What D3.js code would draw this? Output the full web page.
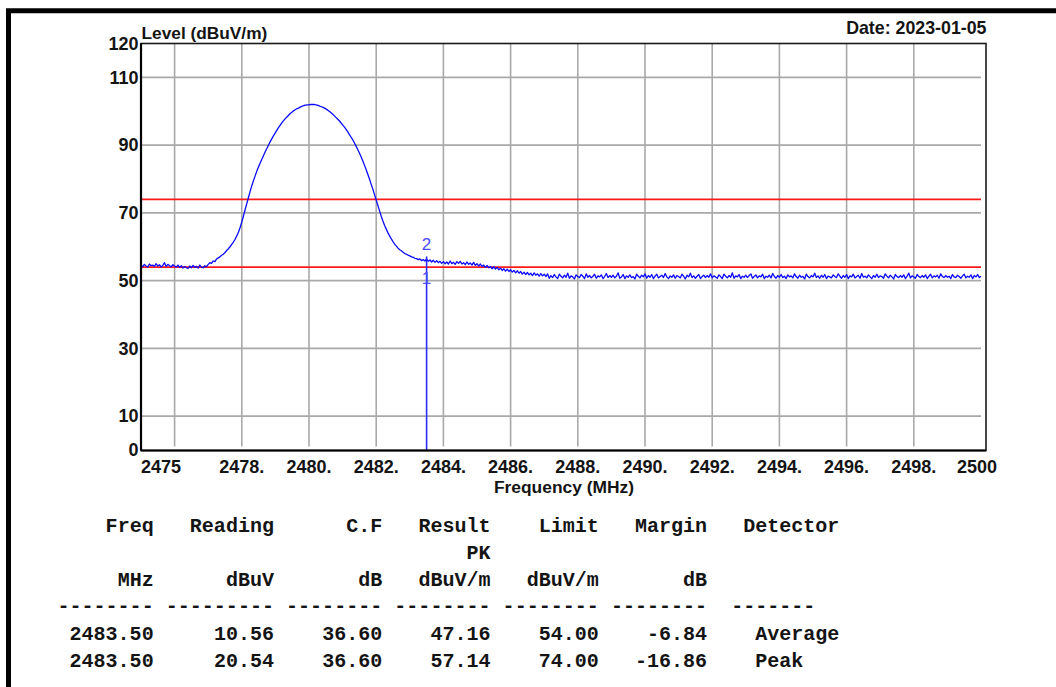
<!DOCTYPE html>
<html>
<head>
<meta charset="utf-8">
<script src="https://cdn.jsdelivr.net/npm/d3@7"></script>
<style>
  html, body { margin: 0; padding: 0; background: #fff; }
  svg { display: block; }
</style>
</head>
<body>
<svg id="chart" width="1056" height="687"></svg>
<script>
// ---- Sweep data (level in dBuV/m, one reading every 0.05 MHz from 2475 MHz) ----
const sweepStart = 2475;
const sweepStep = 0.05;
const levels = [
  // 2475.00 - 2476.95
  54.5, 54.1, 54.8, 54.3, 54.0, 54.9, 54.4, 54.6, 54.2, 55.0,
  54.3, 54.7, 54.0, 54.5, 55.3, 54.2, 54.8, 54.4, 54.1, 54.7,
  54.3, 54.0, 54.6, 53.9, 54.4, 53.7, 54.2, 53.8, 53.6, 54.3,
  53.8, 54.5, 53.9, 54.2, 53.7, 54.6, 54.0, 53.8, 54.4, 54.1,
  // 2477.00 - 2486.95 (carrier)
  54.8, 55.3, 55.1, 55.8, 55.6, 56.4, 56.7, 57.0, 57.5, 57.8,
  58.3, 58.9, 59.4, 60.0, 60.7, 61.4, 62.2, 63.2, 64.3, 65.7,
  67.3, 69.1, 71.0, 72.8, 74.6, 76.4, 78.1, 79.6, 81.0, 82.4,
  83.6, 84.8, 85.9, 87.0, 88.1, 89.1, 90.1, 91.1, 92.0, 92.9,
  93.7, 94.5, 95.3, 96.0, 96.7, 97.3, 97.9, 98.4, 98.9, 99.4,
  99.8, 100.2, 100.5, 100.8, 101.0, 101.3, 101.5, 101.7, 101.8, 101.9,
  101.9, 102.0, 102.0, 102.0, 101.9, 101.8, 101.6, 101.4, 101.2, 101.0,
  100.7, 100.4, 100.0, 99.6, 99.2, 98.7, 98.2, 97.7, 97.2, 96.6,
  96.0, 95.4, 94.7, 94.0, 93.2, 92.4, 91.6, 90.7, 89.7, 88.7,
  87.7, 86.6, 85.4, 84.1, 82.8, 81.4, 80.0, 78.5, 77.0, 75.4,
  73.8, 72.2, 70.6, 69.0, 67.6, 66.3, 65.2, 64.1, 63.2, 62.3,
  61.5, 60.8, 60.2, 59.6, 59.1, 58.8, 58.4, 58.0, 57.8, 57.5,
  57.3, 57.0, 56.9, 56.6, 56.5, 56.2, 56.4, 55.9, 56.2, 55.8,
  56.4, 55.7, 56.1, 55.5, 56.0, 55.4, 55.9, 55.3, 55.7, 55.1,
  55.6, 55.0, 55.5, 54.9, 55.8, 55.0, 55.4, 54.8, 55.6, 55.1,
  55.7, 54.9, 55.3, 54.7, 55.5, 54.8, 55.2, 54.6, 55.4, 54.5,
  55.0, 54.3, 54.9, 54.2, 54.6, 53.9, 54.5, 53.8, 54.2, 53.5,
  54.1, 53.4, 53.9, 53.2, 53.7, 53.0, 53.5, 52.8, 53.4, 52.7,
  53.2, 52.5, 53.0, 52.3, 52.9, 52.2, 52.7, 51.9, 52.5, 51.8,
  52.4, 51.7, 52.2, 51.5, 52.3, 51.6, 52.0, 51.3, 52.1, 51.4,
  // 2487.00 - 2500.00
  51.9,
  51.2, 52.0, 50.7, 51.5, 50.9, 51.8, 51.1, 50.6, 51.9, 51.3,
  50.8, 51.6, 51.0, 52.2, 50.7, 51.4, 51.1, 50.5, 51.7, 51.2,
  50.9, 51.8, 51.3, 50.6, 52.0, 51.0, 51.5, 50.8, 51.3, 51.9,
  50.7, 51.4, 51.1, 51.7, 50.6, 51.2, 52.1, 50.9, 51.5, 51.0,
  51.6, 50.8, 51.3, 52.3, 50.7, 51.1, 51.8, 50.6, 51.4, 51.0,
  51.7, 50.9, 51.2, 50.5, 51.9, 51.3, 50.8, 51.6, 51.1, 52.0,
  50.7, 51.5, 51.0, 51.8, 50.6, 51.3, 51.9, 50.8, 51.2, 51.6,
  50.9, 52.1, 51.1, 50.6, 51.4, 51.0, 51.7, 50.7, 51.5, 51.2,
  50.8, 51.9, 51.3, 50.5, 51.6, 51.1, 52.2, 50.9, 51.4, 50.7,
  51.3, 51.8, 50.6, 51.2, 51.6, 50.9, 51.5, 51.0, 52.0, 50.8,
  51.4, 51.1, 50.7, 51.7, 51.2, 50.6, 51.9, 51.3, 50.8, 51.5,
  51.0, 52.3, 50.7, 51.4, 51.1, 51.8, 50.6, 51.3, 51.0, 51.6,
  50.9, 51.5, 52.0, 50.7, 51.2, 51.7, 50.8, 51.4, 51.1, 51.9,
  50.6, 51.3, 51.0, 51.6, 50.8, 52.1, 51.2, 50.7, 51.5, 51.0,
  51.8, 50.9, 51.3, 50.6, 51.7, 51.1, 51.4, 50.8, 52.0, 51.2,
  50.7, 51.6, 51.0, 51.3, 50.5, 51.9, 51.2, 50.8, 51.5, 51.1,
  52.2, 50.9, 51.4, 50.7, 51.6, 51.0, 51.8, 50.6, 51.3, 51.1,
  50.8, 51.7, 51.2, 50.9, 52.0, 51.3, 50.7, 51.5, 51.0, 51.8,
  50.6, 51.4, 51.1, 51.9, 50.8, 51.2, 51.6, 50.7, 52.1, 51.0,
  51.3, 50.8, 51.7, 51.1, 50.6, 51.5, 51.0, 51.9, 50.9, 51.4,
  51.2, 50.7, 52.0, 51.3, 50.8, 51.6, 51.1, 50.5, 51.8, 51.2,
  50.9, 51.5, 51.0, 51.7, 50.6, 51.3, 52.2, 50.8, 51.4, 51.1,
  50.7, 51.8, 51.2, 50.9, 51.5, 51.0, 51.7, 50.6, 51.3, 51.9,
  50.8, 51.4, 51.1, 51.6, 50.7, 52.0, 51.2, 50.9, 51.5, 51.0,
  51.3, 50.6, 51.8, 51.1, 50.9, 51.6, 51.2, 50.7, 51.4, 51.9,
  50.8, 51.3, 51.0, 51.7, 50.6, 51.5, 51.1, 51.8, 50.9, 51.3
];

// Limit lines (dBuV/m): average and peak
const limitLines = [54, 74];

// Marker readings at the band edge
const markers = [
  { id: "1", freq: 2483.5, level: 47.16 },
  { id: "2", freq: 2483.5, level: 57.14 }
];

// Axis ticks
const yTickValues = [0, 10, 30, 50, 70, 90, 110, 120];
const yGridValues = [10, 30, 50, 70, 90, 110];
const xGridValues = [2476, 2478, 2480, 2482, 2484, 2486, 2488, 2490, 2492, 2494, 2496, 2498];
const xTickValues = [2475, 2478, 2480, 2482, 2484, 2486, 2488, 2490, 2492, 2494, 2496, 2498, 2500];
const xTickTexts  = ["2475", "2478.", "2480.", "2482.", "2484.", "2486.", "2488.", "2490.", "2492.", "2494.", "2496.", "2498.", "2500"];

// Result table
const tableHeader    = ["Freq", "Reading", "C.F", "Result", "Limit", "Margin", "Detector"];
const tableSubHeader = ["", "", "", "PK", "", "", ""];
const tableUnits     = ["MHz", "dBuV", "dB", "dBuV/m", "dBuV/m", "dB", ""];
const tableRuleLens  = [8, 9, 8, 8, 8, 8, 7];
const tableRows = [
  ["2483.50", "10.56", "36.60", "47.16", "54.00", "-6.84", "Average"],
  ["2483.50", "20.54", "36.60", "57.14", "74.00", "-16.86", "Peak"]
];

// ---- Layout ----
const svg = d3.select("#chart");
const plot = { left: 141, right: 986, top: 43.5, bottom: 450.5 };
const x = d3.scaleLinear().domain([2475, 2500]).range([141, 981]);
const y = d3.scaleLinear().domain([0, 120]).range([450, 43.5]);

const sansBold = "'Liberation Sans', Arial, sans-serif";
const mono = "'Liberation Mono', 'DejaVu Sans Mono', monospace";
const ink = "#141414";

// Report border (top and left edges)
svg.append("path")
  .attr("d", "M8.5,687 L8.5,10.8 L1056,10.8")
  .attr("fill", "none").attr("stroke", "#000").attr("stroke-width", 5);

// Grid
const grid = svg.append("g");
grid.selectAll("line.vg").data(xGridValues).join("line")
  .attr("class", "vg")
  .attr("x1", d => x(d)).attr("x2", d => x(d))
  .attr("y1", plot.top).attr("y2", plot.bottom - 4)
  .attr("stroke", "#a9a9a9").attr("stroke-width", 1.6);
grid.selectAll("line.hg").data(yGridValues).join("line")
  .attr("class", "hg")
  .attr("x1", plot.left).attr("x2", x(2500))
  .attr("y1", d => y(d)).attr("y2", d => y(d))
  .attr("stroke", "#a9a9a9").attr("stroke-width", 1.6);

// Limit lines
svg.selectAll("line.limit").data(limitLines).join("line")
  .attr("class", "limit")
  .attr("x1", plot.left).attr("x2", x(2500))
  .attr("y1", d => y(d)).attr("y2", d => y(d))
  .attr("stroke", "#ff1a1a").attr("stroke-width", 1.6);

// Trace
const line = d3.line()
  .x((d, i) => x(sweepStart + i * sweepStep))
  .y(d => y(d));
svg.append("path")
  .datum(levels)
  .attr("d", line)
  .attr("fill", "none")
  .attr("stroke", "#0a0aff")
  .attr("stroke-width", 1.3)
  .attr("stroke-linejoin", "round");

// Marker line and labels
const topMarker = d3.max(markers, d => d.level);
svg.append("line")
  .attr("x1", x(markers[0].freq)).attr("x2", x(markers[0].freq))
  .attr("y1", y(topMarker)).attr("y2", y(0))
  .attr("stroke", "#2a2aff").attr("stroke-width", 1.6);
svg.selectAll("text.marker").data(markers).join("text")
  .attr("class", "marker")
  .attr("x", d => x(d.freq))
  .attr("y", d => y(d.level) - 6)
  .attr("text-anchor", "middle")
  .attr("font-family", sansBold)
  .attr("font-size", 17)
  .attr("fill", "#4a4aff")
  .text(d => d.id);

// Plot frame
svg.append("rect")
  .attr("x", plot.left).attr("y", plot.top)
  .attr("width", plot.right - plot.left).attr("height", plot.bottom - plot.top)
  .attr("fill", "none").attr("stroke", "#1a1a1a").attr("stroke-width", 1.6);
svg.append("line")
  .attr("x1", plot.left).attr("x2", plot.left)
  .attr("y1", plot.top).attr("y2", plot.bottom)
  .attr("stroke", "#000").attr("stroke-width", 2.2);
svg.append("line")
  .attr("x1", plot.left).attr("x2", plot.right)
  .attr("y1", plot.bottom).attr("y2", plot.bottom)
  .attr("stroke", "#000").attr("stroke-width", 2.2);

// Y tick labels
svg.selectAll("text.ytick").data(yTickValues).join("text")
  .attr("class", "ytick")
  .attr("x", 138.5)
  .attr("y", d => y(d) + 6.3)
  .attr("text-anchor", "end")
  .attr("font-family", sansBold).attr("font-weight", "bold")
  .attr("font-size", 18).attr("fill", ink)
  .text(d => d);

// X tick labels
const lastTick = xTickValues.length - 1;
svg.selectAll("text.xtick").data(xTickValues).join("text")
  .attr("class", "xtick")
  .attr("x", (d, i) => i === lastTick ? 997 : x(d))
  .attr("y", 472.5)
  .attr("text-anchor", (d, i) => i === 0 ? "start" : (i === lastTick ? "end" : "middle"))
  .attr("font-family", sansBold).attr("font-weight", "bold")
  .attr("font-size", 18).attr("fill", ink)
  .text((d, i) => xTickTexts[i]);

// Axis titles
svg.append("text")
  .attr("x", 141.5).attr("y", 38.5)
  .attr("font-family", sansBold).attr("font-weight", "bold")
  .attr("font-size", 17.3).attr("fill", ink)
  .text("Level (dBuV/m)");
svg.append("text")
  .attr("x", 986.5).attr("y", 33.5)
  .attr("text-anchor", "end")
  .attr("font-family", sansBold).attr("font-weight", "bold")
  .attr("font-size", 17.8).attr("fill", ink)
  .text("Date: 2023-01-05");
svg.append("text")
  .attr("x", 564).attr("y", 492.5)
  .attr("text-anchor", "middle")
  .attr("font-family", sansBold).attr("font-weight", "bold")
  .attr("font-size", 17.4).attr("fill", ink)
  .text("Frequency (MHz)");

// ---- Result table (fixed-width character grid) ----
const charW = 12.03;
const gridX0 = 57.5;
const colEnds = [7, 17, 26, 35, 44, 53];          // last character column of each right-aligned field
const detStart = { head: 57, rule: 56, body: 58 }; // detector field is left-aligned
const rowY = { head: 532, sub: 559, units: 585.5, rule: 612, rows: [639.5, 667] };
const table = svg.append("g")
  .attr("font-family", mono).attr("font-weight", "bold")
  .attr("font-size", charW / 0.6).attr("fill", ink);

function tableLine(cells, yPos, detCol) {
  cells.forEach((t, i) => {
    if (!t) return;
    const isDet = i === cells.length - 1;
    const startCol = isDet ? detCol : colEnds[i] - t.length + 1;
    table.append("text")
      .attr("x", gridX0 + startCol * charW)
      .attr("y", yPos)
      .text(t);
  });
}
tableLine(tableHeader, rowY.head, detStart.head);
tableLine(tableSubHeader, rowY.sub, detStart.head);
tableLine(tableUnits, rowY.units, detStart.head);
tableLine(tableRuleLens.map(n => "-".repeat(n)), rowY.rule, detStart.rule);
tableRows.forEach((r, k) => tableLine(r, rowY.rows[k], detStart.body));
</script>
</body>
</html>
